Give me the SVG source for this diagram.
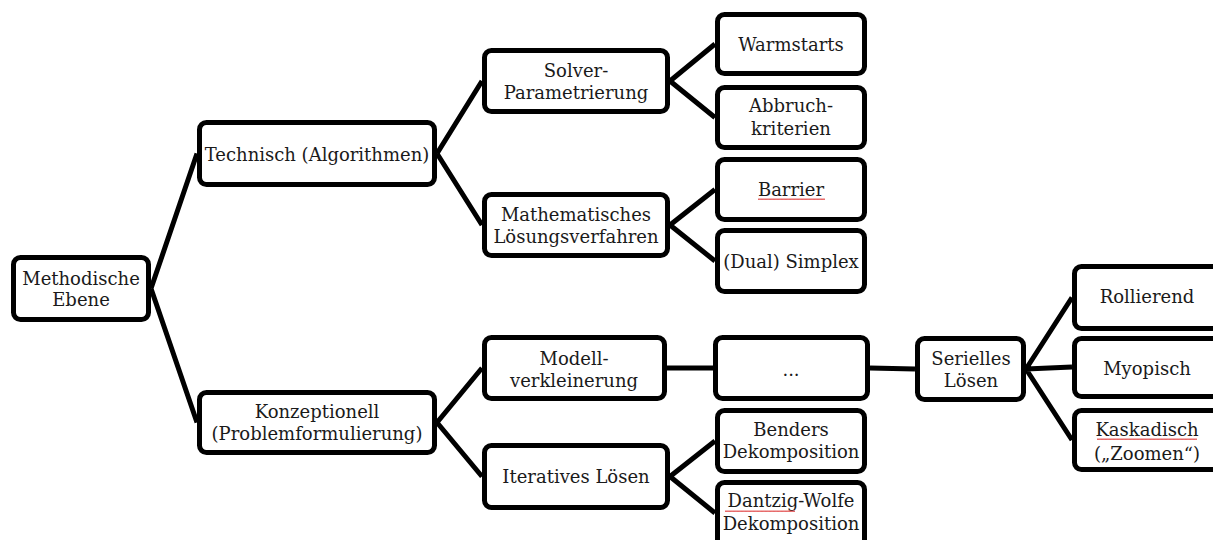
<svg xmlns="http://www.w3.org/2000/svg" width="1213" height="540" viewBox="0 0 1213 540">
<defs>
<style>
.box{fill:#fff;stroke:#000;stroke-width:5;}
.lbl{font-family:"DejaVu Serif","Liberation Serif",serif;font-size:18px;fill:#1a1a1a;text-anchor:middle;}
.con{stroke:#000;stroke-width:5;fill:none;stroke-linecap:butt;}
.sq{stroke:#e04040;stroke-width:0.9;fill:none;}
</style>
<pattern id="wave" width="4" height="3" patternUnits="userSpaceOnUse"><path d="M0 2 L1 0.5 L2 2 L3 0.5 L4 2" class="sq"/></pattern>
</defs>
<rect width="1213" height="540" fill="#fff"/>
<g id="connectors">
<path class="con" d="M151 288.5 L197 153.5 M151 288.5 L197 422.5"/>
<path class="con" d="M437 153.5 L482 81 M437 153.5 L482 225"/>
<path class="con" d="M670 81 L715 44 M670 81 L715 117.5"/>
<path class="con" d="M670 225 L715 189.5 M670 225 L715 261"/>
<path class="con" d="M437 422.5 L482 368 M437 422.5 L482 476.5"/>
<path class="con" d="M667 368 L713 368"/>
<path class="con" d="M870 368 L915 369"/>
<path class="con" d="M670 476.5 L715 441 M670 476.5 L715 513"/>
<path class="con" d="M1026 369 L1072 297.5 M1026 369 L1072 367 M1026 369 L1072 440"/>
</g>
<g id="n-methodische"><rect class="box" x="13.5" y="257.5" width="135" height="62" rx="7"/><text class="lbl" x="81" y="285">Methodische</text><text class="lbl" x="81" y="306">Ebene</text></g>
<g id="n-technisch"><rect class="box" x="199.5" y="122.5" width="235" height="62" rx="7"/><text class="lbl" x="317" y="161">Technisch (Algorithmen)</text></g>
<g id="n-konzeptionell"><rect class="box" x="199.5" y="392.5" width="235" height="60" rx="7"/><text class="lbl" x="317" y="418">Konzeptionell</text><text class="lbl" x="317" y="440">(Problemformulierung)</text></g>
<g id="n-solver"><rect class="box" x="484.5" y="50.5" width="183" height="61" rx="7"/><text class="lbl" x="576" y="77">Solver-</text><text class="lbl" x="576" y="99">Parametrierung</text></g>
<g id="n-math"><rect class="box" x="484.5" y="194.5" width="183" height="61" rx="7"/><text class="lbl" x="576" y="221">Mathematisches</text><text class="lbl" x="576" y="243">Lösungsverfahren</text></g>
<g id="n-modell"><rect class="box" x="484.5" y="337.5" width="180" height="61" rx="7"/><text class="lbl" x="574" y="365">Modell-</text><text class="lbl" x="574" y="387">verkleinerung</text></g>
<g id="n-iterativ"><rect class="box" x="484.5" y="445.5" width="183" height="62" rx="7"/><text class="lbl" x="576" y="483">Iteratives Lösen</text></g>
<g id="n-warm"><rect class="box" x="717.5" y="14.5" width="147" height="59" rx="7"/><text class="lbl" x="791" y="51">Warmstarts</text></g>
<g id="n-abbruch"><rect class="box" x="717.5" y="87.5" width="147" height="60" rx="7"/><text class="lbl" x="791" y="112">Abbruch-</text><text class="lbl" x="791" y="135">kriterien</text></g>
<g id="n-barrier"><rect class="box" x="717.5" y="159.5" width="147" height="60" rx="7"/><text class="lbl" x="791" y="196">Barrier</text><rect x="758" y="197" width="67" height="3" fill="url(#wave)"/></g>
<g id="n-simplex"><rect class="box" x="717.5" y="230.5" width="147" height="61" rx="7"/><text class="lbl" x="791" y="268">(Dual) Simplex</text></g>
<g id="n-dots"><rect class="box" x="715.5" y="337.5" width="152" height="61" rx="7"/><text class="lbl" x="791" y="376">...</text></g>
<g id="n-benders"><rect class="box" x="717.5" y="410.5" width="147" height="61" rx="7"/><text class="lbl" x="791" y="436">Benders</text><text class="lbl" x="791" y="458">Dekomposition</text></g>
<g id="n-dantzig"><rect class="box" x="717.5" y="482.5" width="147" height="70" rx="7"/><text class="lbl" x="791" y="507">Dantzig-Wolfe</text><rect x="725" y="509" width="70" height="3" fill="url(#wave)"/><text class="lbl" x="791" y="530">Dekomposition</text></g>
<g id="n-seriell"><rect class="box" x="917.5" y="338.5" width="106" height="61" rx="7"/><text class="lbl" x="971" y="365">Serielles</text><text class="lbl" x="971" y="387">Lösen</text></g>
<g id="n-rollierend"><rect class="box" x="1074.5" y="266.5" width="160" height="62" rx="7"/><text class="lbl" x="1147" y="303">Rollierend</text></g>
<g id="n-myopisch"><rect class="box" x="1074.5" y="338.5" width="160" height="58" rx="7"/><text class="lbl" x="1147" y="375">Myopisch</text></g>
<g id="n-kaskadisch"><rect class="box" x="1074.5" y="410.5" width="160" height="59" rx="7"/><text class="lbl" x="1147" y="436">Kaskadisch</text><rect x="1097" y="438" width="100" height="3" fill="url(#wave)"/><text class="lbl" x="1147" y="460">(„Zoomen“)</text></g>
</svg>
